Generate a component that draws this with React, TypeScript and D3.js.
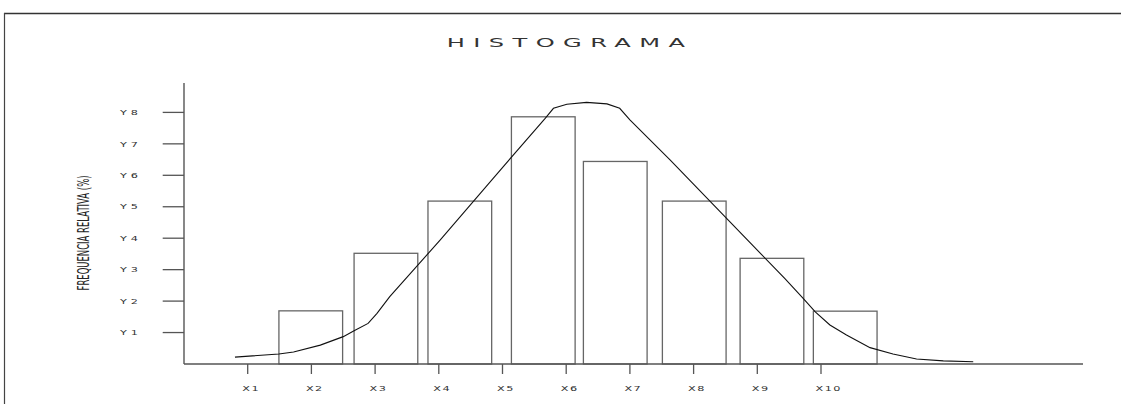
import React from "react";
import * as d3 from "d3";

const W = 1121;
const H = 404;

// categories / tick labels
const xTickLabels = ["X1", "X2", "X3", "X4", "X5", "X6", "X7", "X8", "X9", "X10"];
const yTickLabels = ["Y1", "Y2", "Y3", "Y4", "Y5", "Y6", "Y7", "Y8"];

// bars: left edge (in X units), height (in Y units)
const barStarts = [1.49, 2.67, 3.83, 5.14, 6.27, 7.51, 8.73, 9.88];
const barHeights = [1.69, 3.52, 5.18, 7.86, 6.44, 5.18, 3.36, 1.68];
const barWidth = 1.0;

// frequency curve
const curveX = [0.8, 1.49, 1.72, 2.14, 2.5, 2.67, 2.89, 3.03, 3.23, 4.02, 4.83, 5.67, 5.8, 6.01, 6.32, 6.64, 6.84, 7.0, 7.63, 9.43, 9.72, 9.91, 10.14, 10.4, 10.77, 11.13, 11.5, 11.92, 12.39];
const curveY = [0.22, 0.32, 0.38, 0.6, 0.87, 1.06, 1.29, 1.61, 2.14, 3.94, 5.85, 7.81, 8.13, 8.26, 8.32, 8.27, 8.13, 7.76, 6.49, 2.72, 2.09, 1.66, 1.24, 0.92, 0.52, 0.32, 0.16, 0.1, 0.07];

const font = "'DejaVu Sans', sans-serif";

function WideText(props: {
  x: number;
  y: number;
  sx: number;
  size: number;
  ls: number;
  children: string;
  fill?: string;
}) {
  return (
    <text
      transform={`translate(${props.x},${props.y}) scale(${props.sx},1)`}
      fontFamily={font}
      fontSize={props.size}
      letterSpacing={props.ls}
      fill={props.fill || "#333"}
    >
      {props.children}
    </text>
  );
}

export default function App() {
  const x = d3.scaleLinear().domain([0, 14.113]).range([184, 1083]);
  const y = d3.scaleLinear().domain([0, 8]).range([364, 112.4]);
  const yTop = 83;

  const pts: [number, number][] = curveX.map((v, i) => [v, curveY[i]]);
  const line = d3
    .line<[number, number]>()
    .x((d) => x(d[0]))
    .y((d) => y(d[1]))
    .curve(d3.curveLinear);

  const axisColor = "#555";
  const barColor = "#666";

  return (
    <svg
      width={W}
      height={H}
      style={{ position: "absolute", left: 0, top: 0, background: "#fff" }}
    >
      {/* frame */}
      <line x1={4} y1={13.5} x2={W} y2={13.5} stroke="#333" strokeWidth={1.5} />
      <line x1={4.5} y1={13} x2={4.5} y2={H} stroke="#444" strokeWidth={1.2} />

      {/* title */}
      <WideText x={446.7} y={47} sx={2.1} size={11.5} ls={4}>
        HISTOGRAMA
      </WideText>

      {/* y axis title */}
      <text
        transform="translate(88.5,233) rotate(-90)"
        textAnchor="middle"
        fontFamily={font}
        fontSize={16}
        fill="#222"
        textLength={115}
        lengthAdjust="spacingAndGlyphs"
      >
        FREQUENCIA RELATIVA (%)
      </text>

      {/* bars */}
      {barStarts.map((s, i) => (
        <rect
          key={i}
          x={x(s)}
          y={y(barHeights[i])}
          width={x(s + barWidth) - x(s)}
          height={y(0) - y(barHeights[i])}
          fill="none"
          stroke={barColor}
          strokeWidth={1.3}
        />
      ))}

      {/* axes */}
      <line x1={x(0)} y1={yTop} x2={x(0)} y2={y(0)} stroke={axisColor} strokeWidth={1.4} />
      <line x1={x(0)} y1={y(0)} x2={1083} y2={y(0)} stroke={axisColor} strokeWidth={1.4} />

      {/* y ticks */}
      {yTickLabels.map((lab, i) => (
        <g key={lab}>
          <line x1={162.7} y1={y(i + 1)} x2={x(0)} y2={y(i + 1)} stroke={axisColor} strokeWidth={1.3} />
          <WideText x={120} y={y(i + 1) + 2.7} sx={1.5} size={7.5} ls={2.6}>
            {lab}
          </WideText>
        </g>
      ))}

      {/* x ticks */}
      {xTickLabels.map((lab, i) => (
        <g key={lab}>
          <line x1={x(i + 1)} y1={y(0)} x2={x(i + 1)} y2={y(0) + 10} stroke={axisColor} strokeWidth={1.3} />
          <WideText x={x(i + 1) - 5.5} y={390.5} sx={1.5} size={7.5} ls={1}>
            {lab}
          </WideText>
        </g>
      ))}

      {/* curve */}
      <path d={line(pts) || ""} fill="none" stroke="#111" strokeWidth={1.1} />
    </svg>
  );
}
